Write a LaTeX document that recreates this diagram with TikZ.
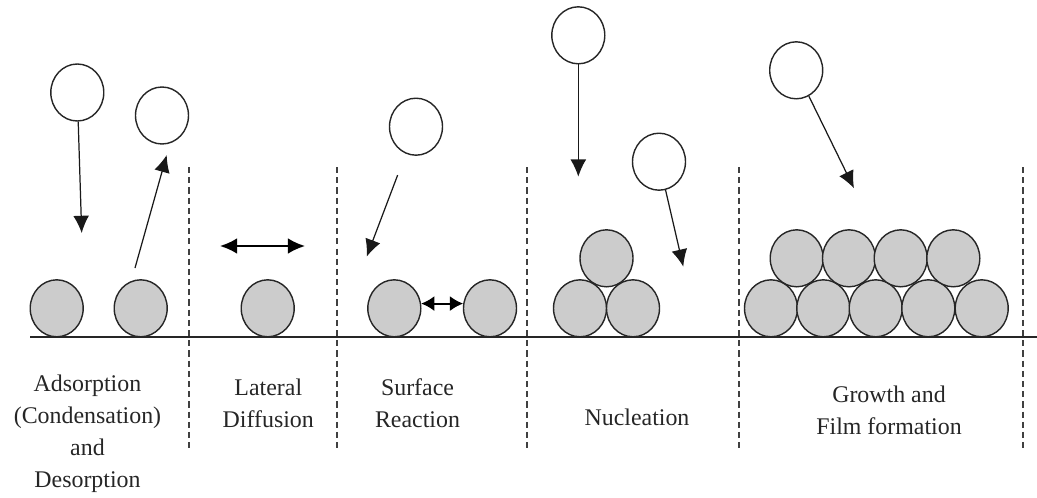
\documentclass[tikz,border=0pt]{standalone}
\usepackage{fontspec}
\setmainfont{Liberation Serif}
\usetikzlibrary{arrows.meta,shapes.geometric}
\tikzset{>={Latex[length=9.8pt,width=9pt]}}
\tikzstyle{atom}=[ellipse,draw=black!85,fill=black!20,line width=0.8pt,minimum width=1.06cm,minimum height=1.14cm,inner sep=0pt]
\tikzstyle{vapor}=[ellipse,draw=black!85,fill=white,line width=0.8pt,minimum width=1.06cm,minimum height=1.14cm,inner sep=0pt]
\tikzstyle{divider}=[black!75,line width=0.7pt,dash pattern=on 3.5pt off 2.3pt]
\tikzstyle{flight}=[->,black!90,line width=0.7pt]
\tikzstyle{stagetext}=[align=center,text=black!85,font=\fontsize{13.6}{18.2}\selectfont]

\begin{document}
\begin{tikzpicture}[x=0.02cm,y=-0.02cm]
	\useasboundingbox (0,0) rectangle (1037,497);
	\def \base {308.3};
	\def \upper {258.3};
	
	% substrate and stage borders
	\coordinate (sub0) at (30,336.8);
	\coordinate (sub1) at (1037,336.8);
	\draw[black!85,line width=1.1pt] (sub0) -- (sub1);
	\foreach \x [count=\i] in {189,337,527,739,1023} {
		\coordinate (top\i) at (\x,167);
		\coordinate (bot\i) at (\x,448);
		\draw[divider] (top\i) -- (bot\i);
	}
	
	% adsorption / desorption
	\node[atom] (ad1) at (56.7,\base) {};
	\node[atom] (ad2) at (140.7,\base) {};
	\node[vapor] (gas1) at (77.3,92.5) {};
	\node[vapor] (gas2) at (162,115.5) {};
	\coordinate (land1) at (81.7,233);
	\coordinate (rise0) at (135,268);
	\coordinate (rise1) at (166.7,155);
	\draw[flight] (gas1) -- (land1);
	\draw[flight] (rise0) -- (rise1);
	
	% lateral diffusion
	\node[atom] (ld) at (267.7,\base) {};
	\coordinate (hop0) at (220,246);
	\coordinate (hop1) at (305,246);
	\draw[<->,line width=1.1pt] (hop0) -- (hop1);
	
	% surface reaction
	\node[atom] (sr1) at (394.3,\base) {};
	\node[atom] (sr2) at (490,\base) {};
	\node[vapor] (gas3) at (416,126.7) {};
	\coordinate (land3) at (366.7,256.7);
	\draw[flight,shorten <=13] (gas3) -- (land3);
	\draw[{Latex[length=7.5pt,width=8.5pt]}-{Latex[length=7.5pt,width=8.5pt]},line width=1.1pt] (sr1.10) -- (sr2.170);
	
	% nucleation
	\node[atom] (nu1) at (580,\base) {};
	\node[atom] (nu2) at (633,\base) {};
	\node[atom] (nu3) at (606.5,\upper) {};
	\node[vapor] (gas4) at (578.3,35.3) {};
	\node[vapor] (gas5) at (659,161.7) {};
	\coordinate (land4) at (578.3,176.7);
	\coordinate (land5) at (683.3,266.7);
	\draw[flight] (gas4) -- (land4);
	\draw[flight] (gas5) -- (land5);
	
	% growth
	\foreach \x [count=\i] in {771,823.3,875.7,928.3,981.7}
		\node[atom] (gb\i) at (\x,\base) {};
	\foreach \x [count=\i] in {796.7,849,900.7,953.3}
		\node[atom] (gt\i) at (\x,\upper) {};
	\node[vapor] (gas6) at (796.2,70.3) {};
	\coordinate (land6) at (854,188.3);
	\draw[flight] (gas6) -- (land6);
	
	% captions
	\node[stagetext] (adlab) at (87.5,434) {Adsorption\\(Condensation)\\and\\Desorption};
	\node[stagetext] (ldlab) at (268.3,403) {Lateral\\Diffusion};
	\node[stagetext] (srlab) at (417.5,403) {Surface\\Reaction};
	\node[stagetext] (nulab) at (637,417) {Nucleation};
	\node[stagetext] (grlab) at (889,410) {Growth and\\Film formation};
\end{tikzpicture}
\end{document}
